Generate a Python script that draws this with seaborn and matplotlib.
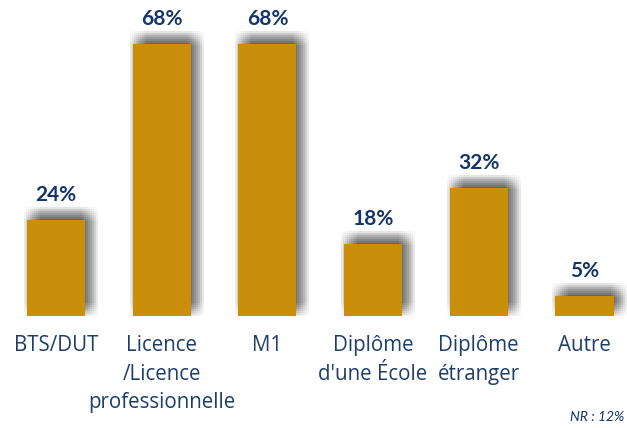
import matplotlib
matplotlib.use("Agg")
import matplotlib.pyplot as plt
import matplotlib.patheffects as pe
import seaborn as sns
import pandas as pd

categories = ["BTS/DUT", "Licence\n/Licence\nprofessionnelle", "M1",
              "Diplôme\nd'une École", "Diplôme\nétranger", "Autre"]
values = [24, 68, 68, 18, 32, 5]
value_labels = ["24%", "68%", "68%", "18%", "32%", "5%"]
note = "NR : 12%"

sns.set_theme(style="white")
plt.rcParams['font.family'] = ['Lato', 'DejaVu Sans']

BAR = "#C98F0B"
NUM = "#14346A"
CAT = "#1F3D6B"

df = pd.DataFrame({"cat": categories, "val": values})

fig = plt.figure(figsize=(6.27, 4.28), dpi=100)
ax = fig.add_axes([0, 112 / 428, 1, 316 / 428])

sns.barplot(data=df, x="cat", y="val", color=BAR, saturation=1, width=0.55,
            ax=ax, zorder=3)

# soft (blurred) drop shadow: many faint offset copies
px = 72 / 100  # points per pixel
effects = []
for dx in range(-3, 14, 2):
    for dy in range(-1, 15, 2):
        effects.append(pe.SimplePatchShadow(offset=(dx * px, dy * px),
                                            shadow_rgbFace="#000000", alpha=0.011))
effects.append(pe.Normal())
for p in ax.patches:
    p.set_path_effects(effects)
    p.set_edgecolor("none")

for i, (v, lab) in enumerate(zip(values, value_labels)):
    ax.annotate(lab, (i, v), xytext=(0, 11), textcoords="offset points",
                ha="center", va="bottom", fontsize=15, fontweight="bold",
                color=NUM)

ax.set_xlim(-56 / 105.7, (627 - 56) / 105.7)
ax.set_ylim(0, 79)
ax.set_xlabel("")
ax.set_ylabel("")
ax.set_yticks([])
ax.tick_params(axis="x", length=0, pad=14, labelcolor=CAT)
for t in ax.get_xticklabels():
    t.set_linespacing(1.45)
    t.set_fontfamily(['Open Sans', 'DejaVu Sans'])
    t.set_fontsize(14.8)
for s in ax.spines.values():
    s.set_visible(False)

fig.text(624 / 627, 5 / 428, note, ha="right", va="bottom", fontsize=10,
         style="italic", color=NUM)

fig.savefig("out.png", dpi=100)
